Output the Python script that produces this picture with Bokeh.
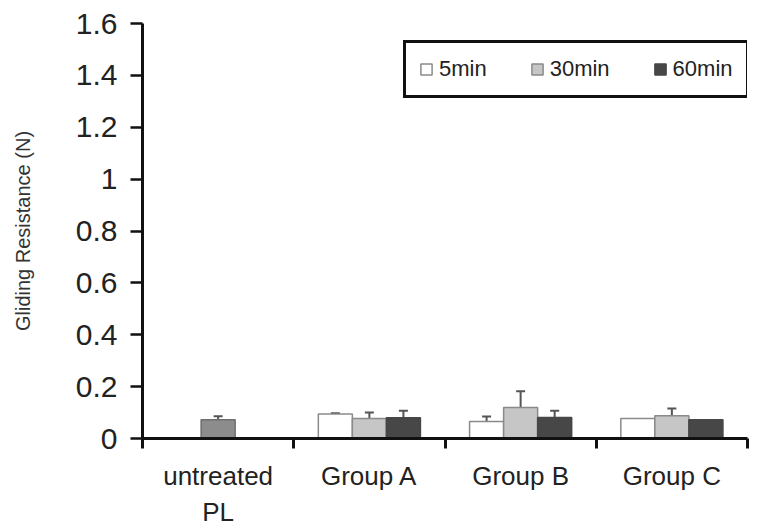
import numpy as np
from bokeh.plotting import figure
from bokeh.models import (ColumnDataSource, Range1d, FixedTicker, NumeralTickFormatter,
                          Whisker, TeeHead, Legend, LegendItem)
from bokeh.embed import file_html
from bokeh.resources import INLINE

# ---- data ----
categories = ["untreated\nPL", "Group A", "Group B", "Group C"]
series = ["5min", "30min", "60min"]
pl_value = [0.072]
pl_error = [0.014]
min5 = [0.094, 0.066, 0.077]
min30 = [0.077, 0.120, 0.088]
min60 = [0.080, 0.081, 0.072]
err5 = [0.003, 0.019, 0.0]
err30 = [0.023, 0.062, 0.028]
err60 = [0.027, 0.026, 0.0]
y_ticks = [0, 0.2, 0.4, 0.6, 0.8, 1.0, 1.2, 1.4, 1.6]

FONT = "Liberation Sans"
BW = 0.225

p = figure(width=752, height=529, output_backend="svg", toolbar_location=None,
           x_range=Range1d(0, 4), y_range=Range1d(0, 1.6),
           min_border_left=142, min_border_right=5, min_border_top=23, min_border_bottom=87)
p.grid.visible = False
p.outline_line_color = None

colors = ["#ffffff", "#c6c6c6", "#474747"]
lines = ["#8a8a8a", "#8a8a8a", "#474747"]
vals = [min5, min30, min60]
errs = [err5, err30, err60]
offsets = [-BW, 0.0, BW]

# untreated PL bar
pl_src = ColumnDataSource(dict(x=[0.5], top=pl_value, up=[pl_value[0] + pl_error[0]]))
p.vbar(x="x", top="top", width=BW, source=pl_src, fill_color="#8c8c8c",
       line_color="#6e6e6e", line_width=1.5)
p.add_layout(Whisker(base="x", lower="top", upper="up", source=pl_src,
                     line_color="#555555", line_width=2,
                     upper_head=TeeHead(size=9, line_color="#555555", line_width=2),
                     lower_head=None))

renderers = []
for k in range(3):
    xs = [i + 1.5 + offsets[k] for i in range(3)]
    src = ColumnDataSource(dict(x=xs, top=vals[k],
                                up=[v + e for v, e in zip(vals[k], errs[k])]))
    r = p.vbar(x="x", top="top", width=BW, source=src, fill_color=colors[k],
               line_color=lines[k], line_width=1.5)
    renderers.append(r)
    mask_src = ColumnDataSource(dict(
        x=[x for x, e in zip(xs, errs[k]) if e > 0],
        top=[v for v, e in zip(vals[k], errs[k]) if e > 0],
        up=[v + e for v, e in zip(vals[k], errs[k]) if e > 0]))
    p.add_layout(Whisker(base="x", lower="top", upper="up", source=mask_src,
                         line_color="#555555", line_width=2,
                         upper_head=TeeHead(size=9, line_color="#555555", line_width=2),
                         lower_head=None))

# x axis
xa = p.xaxis[0]
xa.ticker = FixedTicker(ticks=[0.5, 1.5, 2.5, 3.5], minor_ticks=[0, 1, 2, 3, 4])
xa.major_label_overrides = {0.5: categories[0], 1.5: categories[1],
                            2.5: categories[2], 3.5: categories[3]}
xa.major_tick_out = 0
xa.major_tick_in = 0
xa.minor_tick_out = 10
xa.minor_tick_in = 0
xa.minor_tick_line_width = 3
xa.minor_tick_line_color = "#111111"
xa.axis_line_width = 3
xa.axis_line_color = "#111111"
xa.major_label_text_font = FONT
xa.major_label_text_font_size = "26px"
xa.major_label_text_color = "#222222"
xa.major_label_standoff = 12

# y axis
ya = p.yaxis[0]
ya.ticker = FixedTicker(ticks=y_ticks, minor_ticks=[])
ya.formatter = NumeralTickFormatter(format="0.[0]")
ya.major_tick_out = 12
ya.major_tick_in = 0
ya.major_tick_line_width = 2.5
ya.major_tick_line_color = "#111111"
ya.axis_line_width = 3
ya.axis_line_color = "#111111"
ya.major_label_text_font = FONT
ya.major_label_text_font_size = "30px"
ya.major_label_text_color = "#222222"
ya.major_label_standoff = 13
ya.axis_label = "Gliding Resistance (N)"
ya.axis_label_text_font = FONT
ya.axis_label_text_font_size = "20px"
ya.axis_label_text_font_style = "normal"
ya.axis_label_text_color = "#333333"
ya.axis_label_standoff = 39

legend = Legend(items=[LegendItem(label=series[k], renderers=[renderers[k]]) for k in range(3)],
                orientation="horizontal", location=(261, 340),
                label_text_font=FONT, label_text_font_size="22px", label_text_color="#222222",
                glyph_width=14, glyph_height=14, label_standoff=6, spacing=43,
                padding=13, margin=0, label_height=22,
                border_line_color="#111111", border_line_width=3, border_line_alpha=1.0,
                background_fill_color="white", background_fill_alpha=1)
p.add_layout(legend, "center")

open("out.html", "w").write(file_html(p, INLINE))
